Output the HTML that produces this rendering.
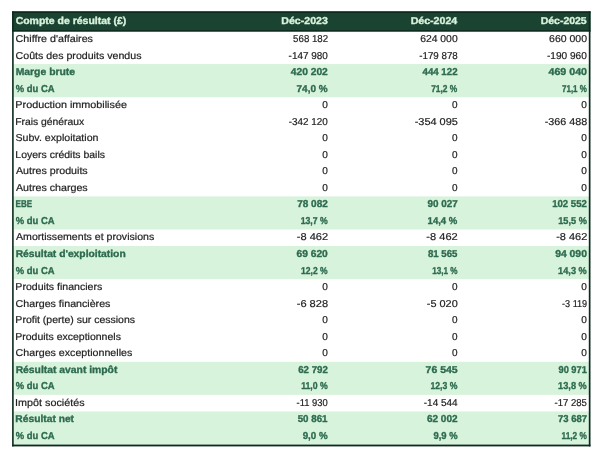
<!DOCTYPE html>
<html lang="fr"><head><meta charset="utf-8"><title>Compte de résultat</title>
<style>
html,body{margin:0;padding:0;background:#fff;}
body{width:600px;height:453px;position:relative;overflow:hidden;font-family:"Liberation Sans",sans-serif;font-size:10px;line-height:1;text-rendering:geometricPrecision;}
.c{position:absolute;white-space:nowrap;display:block;}
.c{-webkit-text-stroke:0.2px currentColor;}
.b{font-weight:bold;-webkit-text-stroke:0.35px currentColor;}
svg{position:absolute;left:0;top:0;}
.l{transform-origin:0 0;}
.r{transform-origin:100% 0;}
</style></head><body>
<svg width="600" height="453" viewBox="0 0 600 453">
<rect x="12.10" y="11.40" width="578.40" height="20.10" fill="#1b4332"/>
<rect x="13.10" y="64.08" width="576.40" height="33.08" fill="#d8f3dc"/>
<rect x="13.10" y="196.40" width="576.40" height="33.08" fill="#d8f3dc"/>
<rect x="13.10" y="246.02" width="576.40" height="33.08" fill="#d8f3dc"/>
<rect x="13.10" y="361.80" width="576.40" height="33.08" fill="#d8f3dc"/>
<rect x="13.10" y="411.42" width="576.40" height="33.98" fill="#d8f3dc"/>
<g fill="#0d2a1e">
<rect x="12.10" y="11.40" width="578.40" height="1.60"/>
<rect x="12.10" y="30.20" width="578.40" height="1.30"/>
<rect x="12.10" y="444.60" width="578.40" height="1.80"/>
<rect x="12.10" y="11.40" width="1.60" height="435.00"/>
<rect x="588.80" y="11.40" width="1.70" height="435.00"/>
</g>
</svg>
<span id="h0" class="c l b" style="left:15px;top:17.1px;color:#d8f3dc;transform:translateX(0.65px) scaleX(1.0478)">Compte de résultat (£)</span>
<span id="h1" class="c r b" style="right:272px;top:17.1px;color:#d8f3dc;transform:translateX(-0.16px) scaleX(1.0562)">Déc-2023</span>
<span id="h2" class="c r b" style="right:142px;top:17.1px;color:#d8f3dc;transform:translateX(-0.73px) scaleX(1.0600)">Déc-2024</span>
<span id="h3" class="c r b" style="right:13px;top:17.1px;color:#d8f3dc;transform:translateX(-0.22px) scaleX(1.0482)">Déc-2025</span>
<span id="r0l" class="c l" style="left:15px;top:35.1px;color:#222222;transform:translateX(0.62px) scaleX(1.0722)">Chiffre d'affaires</span>
<span id="r0c0" class="c r" style="right:272px;top:35.1px;color:#222222;transform:translateX(-0.05px) scaleX(0.9678)">568 182</span>
<span id="r0c1" class="c r" style="right:142px;top:35.1px;color:#222222;transform:translateX(-0.50px) scaleX(1.0372)">624 000</span>
<span id="r0c2" class="c r" style="right:13px;top:35.1px;color:#222222;transform:translateX(-0.17px) scaleX(1.0491)">660 000</span>
<span id="r1l" class="c l" style="left:15px;top:52.1px;color:#222222;transform:translateX(0.62px) scaleX(1.0629)">Coûts des produits vendus</span>
<span id="r1c0" class="c r" style="right:272px;top:52.1px;color:#222222;transform:translateX(-0.61px) scaleX(0.9955)">-147 980</span>
<span id="r1c1" class="c r" style="right:142px;top:52.1px;color:#222222;transform:translateX(-0.75px) scaleX(0.9746)">-179 878</span>
<span id="r1c2" class="c r" style="right:13px;top:52.1px;color:#222222;transform:translateX(-0.63px) scaleX(1.0111)">-190 960</span>
<span id="r2l" class="c l b" style="left:15px;top:68.1px;color:#2d6a4f;transform:translateX(0.64px) scaleX(1.0390)">Marge brute</span>
<span id="r2c0" class="c r b" style="right:272px;top:68.1px;color:#2d6a4f;transform:translateX(-0.32px) scaleX(1.0254)">420 202</span>
<span id="r2c1" class="c r b" style="right:142px;top:68.1px;color:#2d6a4f;transform:translateX(-0.60px) scaleX(0.9695)">444 122</span>
<span id="r2c2" class="c r b" style="right:13px;top:68.1px;color:#2d6a4f;transform:translateX(-0.14px) scaleX(1.0665)">469 040</span>
<span id="r3l" class="c l b" style="left:15px;top:85.1px;color:#2d6a4f;transform:translateX(0.85px) scaleX(0.9433)">% du CA</span>
<span id="r3c0" class="c r b" style="right:272px;top:85.1px;color:#2d6a4f;transform:translateX(-0.47px) scaleX(0.9992)">74,0 %</span>
<span id="r3c1" class="c r b" style="right:142px;top:85.1px;color:#2d6a4f;transform:translateX(-0.82px) scaleX(0.8407)">71,2 %</span>
<span id="r3c2" class="c r b" style="right:13px;top:85.1px;color:#2d6a4f;transform:translateX(-0.22px) scaleX(0.8008)">71,1 %</span>
<span id="r4l" class="c l" style="left:15px;top:101.1px;color:#222222;transform:translateX(0.35px) scaleX(1.0791)">Production immobilisée</span>
<span id="r4c0" class="c r" style="right:271px;top:101.1px;color:#222222;transform:translateX(-0.70px) scaleX(1.0081)">0</span>
<span id="r4c1" class="c r" style="right:142px;top:101.1px;color:#222222;transform:translateX(-0.02px) scaleX(0.9985)">0</span>
<span id="r4c2" class="c r" style="right:12px;top:101.1px;color:#222222;transform:translateX(-0.60px) scaleX(1.0084)">0</span>
<span id="r5l" class="c l" style="left:15px;top:118.1px;color:#222222;transform:translateX(0.21px) scaleX(1.0352)">Frais généraux</span>
<span id="r5c0" class="c r" style="right:272px;top:118.1px;color:#222222;transform:translateX(-0.68px) scaleX(0.9905)">-342 120</span>
<span id="r5c1" class="c r" style="right:142px;top:118.1px;color:#222222;transform:translateX(-0.61px) scaleX(1.0946)">-354 095</span>
<span id="r5c2" class="c r" style="right:13px;top:118.1px;color:#222222;transform:translateX(-0.34px) scaleX(1.0758)">-366 488</span>
<span id="r6l" class="c l" style="left:15px;top:134.1px;color:#222222;transform:translateX(0.49px) scaleX(1.0611)">Subv. exploitation</span>
<span id="r6c0" class="c r" style="right:271px;top:134.1px;color:#222222;transform:translateX(-0.70px) scaleX(1.0081)">0</span>
<span id="r6c1" class="c r" style="right:142px;top:134.1px;color:#222222;transform:translateX(-0.02px) scaleX(0.9985)">0</span>
<span id="r6c2" class="c r" style="right:12px;top:134.1px;color:#222222;transform:translateX(-0.60px) scaleX(1.0084)">0</span>
<span id="r7l" class="c l" style="left:15px;top:151.1px;color:#222222;transform:translateX(0.37px) scaleX(1.0472)">Loyers crédits bails</span>
<span id="r7c0" class="c r" style="right:271px;top:151.1px;color:#222222;transform:translateX(-0.70px) scaleX(1.0081)">0</span>
<span id="r7c1" class="c r" style="right:142px;top:151.1px;color:#222222;transform:translateX(-0.02px) scaleX(0.9985)">0</span>
<span id="r7c2" class="c r" style="right:12px;top:151.1px;color:#222222;transform:translateX(-0.60px) scaleX(1.0084)">0</span>
<span id="r8l" class="c l" style="left:15px;top:167.1px;color:#222222;transform:translateX(0.91px) scaleX(1.0676)">Autres produits</span>
<span id="r8c0" class="c r" style="right:271px;top:167.1px;color:#222222;transform:translateX(-0.70px) scaleX(1.0081)">0</span>
<span id="r8c1" class="c r" style="right:142px;top:167.1px;color:#222222;transform:translateX(-0.02px) scaleX(0.9985)">0</span>
<span id="r8c2" class="c r" style="right:12px;top:167.1px;color:#222222;transform:translateX(-0.60px) scaleX(1.0084)">0</span>
<span id="r9l" class="c l" style="left:15px;top:184.1px;color:#222222;transform:translateX(0.95px) scaleX(1.0669)">Autres charges</span>
<span id="r9c0" class="c r" style="right:271px;top:184.1px;color:#222222;transform:translateX(-0.70px) scaleX(1.0081)">0</span>
<span id="r9c1" class="c r" style="right:142px;top:184.1px;color:#222222;transform:translateX(-0.02px) scaleX(0.9985)">0</span>
<span id="r9c2" class="c r" style="right:12px;top:184.1px;color:#222222;transform:translateX(-0.60px) scaleX(1.0084)">0</span>
<span id="r10l" class="c l b" style="left:15px;top:200.1px;color:#2d6a4f;transform:translateX(0.58px) scaleX(0.8029)">EBE</span>
<span id="r10c0" class="c r b" style="right:271px;top:200.1px;color:#2d6a4f;transform:translateX(-0.75px) scaleX(1.0029)">78 082</span>
<span id="r10c1" class="c r b" style="right:141px;top:200.1px;color:#2d6a4f;transform:translateX(-0.85px) scaleX(0.9869)">90 027</span>
<span id="r10c2" class="c r b" style="right:13px;top:200.1px;color:#2d6a4f;transform:translateX(-0.23px) scaleX(0.9623)">102 552</span>
<span id="r11l" class="c l b" style="left:15px;top:217.1px;color:#2d6a4f;transform:translateX(0.85px) scaleX(0.9433)">% du CA</span>
<span id="r11c0" class="c r b" style="right:272px;top:217.1px;color:#2d6a4f;transform:translateX(-0.44px) scaleX(0.8682)">13,7 %</span>
<span id="r11c1" class="c r b" style="right:142px;top:217.1px;color:#2d6a4f;transform:translateX(-0.82px) scaleX(0.9547)">14,4 %</span>
<span id="r11c2" class="c r b" style="right:13px;top:217.1px;color:#2d6a4f;transform:translateX(-0.33px) scaleX(0.9191)">15,5 %</span>
<span id="r12l" class="c l" style="left:16px;top:233.1px;color:#222222;transform:translateX(0.01px) scaleX(1.0582)">Amortissements et provisions</span>
<span id="r12c0" class="c r" style="right:272px;top:233.1px;color:#222222;transform:translateX(-0.22px) scaleX(1.1043)">-8 462</span>
<span id="r12c1" class="c r" style="right:142px;top:233.1px;color:#222222;transform:translateX(-0.60px) scaleX(1.1069)">-8 462</span>
<span id="r12c2" class="c r" style="right:13px;top:233.1px;color:#222222;transform:translateX(-0.04px) scaleX(1.0978)">-8 462</span>
<span id="r13l" class="c l b" style="left:15px;top:250.1px;color:#2d6a4f;transform:translateX(0.67px) scaleX(1.0297)">Résultat d'exploitation</span>
<span id="r13c0" class="c r b" style="right:271px;top:250.1px;color:#2d6a4f;transform:translateX(-0.82px) scaleX(1.0231)">69 620</span>
<span id="r13c1" class="c r b" style="right:142px;top:250.1px;color:#2d6a4f;transform:translateX(-0.18px) scaleX(0.9647)">81 565</span>
<span id="r13c2" class="c r b" style="right:12px;top:250.1px;color:#2d6a4f;transform:translateX(-0.67px) scaleX(1.0390)">94 090</span>
<span id="r14l" class="c l b" style="left:15px;top:267.1px;color:#2d6a4f;transform:translateX(0.85px) scaleX(0.9433)">% du CA</span>
<span id="r14c0" class="c r b" style="right:272px;top:267.1px;color:#2d6a4f;transform:translateX(-0.49px) scaleX(0.8524)">12,2 %</span>
<span id="r14c1" class="c r b" style="right:142px;top:267.1px;color:#2d6a4f;transform:translateX(-0.52px) scaleX(0.8164)">13,1 %</span>
<span id="r14c2" class="c r b" style="right:13px;top:267.1px;color:#2d6a4f;transform:translateX(-0.37px) scaleX(0.9220)">14,3 %</span>
<span id="r15l" class="c l" style="left:15px;top:283.1px;color:#222222;transform:translateX(0.37px) scaleX(1.0565)">Produits financiers</span>
<span id="r15c0" class="c r" style="right:271px;top:283.1px;color:#222222;transform:translateX(-0.70px) scaleX(1.0081)">0</span>
<span id="r15c1" class="c r" style="right:142px;top:283.1px;color:#222222;transform:translateX(-0.02px) scaleX(0.9985)">0</span>
<span id="r15c2" class="c r" style="right:12px;top:283.1px;color:#222222;transform:translateX(-0.60px) scaleX(1.0084)">0</span>
<span id="r16l" class="c l" style="left:15px;top:300.1px;color:#222222;transform:translateX(0.62px) scaleX(1.0660)">Charges financières</span>
<span id="r16c0" class="c r" style="right:272px;top:300.1px;color:#222222;transform:translateX(-0.32px) scaleX(1.1039)">-6 828</span>
<span id="r16c1" class="c r" style="right:142px;top:300.1px;color:#222222;transform:translateX(-0.65px) scaleX(1.0892)">-5 020</span>
<span id="r16c2" class="c r" style="right:12px;top:300.1px;color:#222222;transform:translateX(-0.53px) scaleX(0.9069)">-3 119</span>
<span id="r17l" class="c l" style="left:15px;top:316.1px;color:#222222;transform:translateX(0.37px) scaleX(1.0506)">Profit (perte) sur cessions</span>
<span id="r17c0" class="c r" style="right:271px;top:316.1px;color:#222222;transform:translateX(-0.70px) scaleX(1.0081)">0</span>
<span id="r17c1" class="c r" style="right:142px;top:316.1px;color:#222222;transform:translateX(-0.02px) scaleX(0.9985)">0</span>
<span id="r17c2" class="c r" style="right:12px;top:316.1px;color:#222222;transform:translateX(-0.60px) scaleX(1.0084)">0</span>
<span id="r18l" class="c l" style="left:15px;top:333.1px;color:#222222;transform:translateX(0.20px) scaleX(1.0504)">Produits exceptionnels</span>
<span id="r18c0" class="c r" style="right:271px;top:333.1px;color:#222222;transform:translateX(-0.70px) scaleX(1.0081)">0</span>
<span id="r18c1" class="c r" style="right:142px;top:333.1px;color:#222222;transform:translateX(-0.02px) scaleX(0.9985)">0</span>
<span id="r18c2" class="c r" style="right:12px;top:333.1px;color:#222222;transform:translateX(-0.60px) scaleX(1.0084)">0</span>
<span id="r19l" class="c l" style="left:15px;top:349.1px;color:#222222;transform:translateX(0.62px) scaleX(1.0651)">Charges exceptionnelles</span>
<span id="r19c0" class="c r" style="right:271px;top:349.1px;color:#222222;transform:translateX(-0.70px) scaleX(1.0081)">0</span>
<span id="r19c1" class="c r" style="right:142px;top:349.1px;color:#222222;transform:translateX(-0.02px) scaleX(0.9985)">0</span>
<span id="r19c2" class="c r" style="right:12px;top:349.1px;color:#222222;transform:translateX(-0.60px) scaleX(1.0084)">0</span>
<span id="r20l" class="c l b" style="left:15px;top:366.1px;color:#2d6a4f;transform:translateX(0.65px) scaleX(1.0341)">Résultat avant impôt</span>
<span id="r20c0" class="c r b" style="right:271px;top:366.1px;color:#2d6a4f;transform:translateX(-0.75px) scaleX(0.9708)">62 792</span>
<span id="r20c1" class="c r b" style="right:141px;top:366.1px;color:#2d6a4f;transform:translateX(-0.92px) scaleX(1.0489)">76 545</span>
<span id="r20c2" class="c r b" style="right:12px;top:366.1px;color:#2d6a4f;transform:translateX(-0.80px) scaleX(0.9239)">90 971</span>
<span id="r21l" class="c l b" style="left:15px;top:382.1px;color:#2d6a4f;transform:translateX(0.85px) scaleX(0.9433)">% du CA</span>
<span id="r21c0" class="c r b" style="right:271px;top:382.1px;color:#2d6a4f;transform:translateX(-0.83px) scaleX(0.8707)">11,0 %</span>
<span id="r21c1" class="c r b" style="right:142px;top:382.1px;color:#2d6a4f;transform:translateX(-0.75px) scaleX(0.8656)">12,3 %</span>
<span id="r21c2" class="c r b" style="right:13px;top:382.1px;color:#2d6a4f;transform:translateX(-0.38px) scaleX(0.9205)">13,8 %</span>
<span id="r22l" class="c l" style="left:15px;top:399.1px;color:#222222;transform:translateX(0.12px) scaleX(1.0772)">Impôt sociétés</span>
<span id="r22c0" class="c r" style="right:272px;top:399.1px;color:#222222;transform:translateX(-0.36px) scaleX(0.9409)">-11 930</span>
<span id="r22c1" class="c r" style="right:142px;top:399.1px;color:#222222;transform:translateX(-0.25px) scaleX(0.9988)">-14 544</span>
<span id="r22c2" class="c r" style="right:13px;top:399.1px;color:#222222;transform:translateX(-0.05px) scaleX(0.9545)">-17 285</span>
<span id="r23l" class="c l b" style="left:15px;top:415.1px;color:#2d6a4f;transform:translateX(0.36px) scaleX(1.0247)">Résultat net</span>
<span id="r23c0" class="c r b" style="right:272px;top:415.1px;color:#2d6a4f;transform:translateX(-0.07px) scaleX(0.9761)">50 861</span>
<span id="r23c1" class="c r b" style="right:142px;top:415.1px;color:#2d6a4f;transform:translateX(-0.03px) scaleX(1.0023)">62 002</span>
<span id="r23c2" class="c r b" style="right:12px;top:415.1px;color:#2d6a4f;transform:translateX(-0.59px) scaleX(0.9503)">73 687</span>
<span id="r24l" class="c l b" style="left:15px;top:432.1px;color:#2d6a4f;transform:translateX(0.85px) scaleX(0.9433)">% du CA</span>
<span id="r24c0" class="c r b" style="right:271px;top:432.1px;color:#2d6a4f;transform:translateX(-0.92px) scaleX(0.9786)">9,0 %</span>
<span id="r24c1" class="c r b" style="right:141px;top:432.1px;color:#2d6a4f;transform:translateX(-0.99px) scaleX(0.9433)">9,9 %</span>
<span id="r24c2" class="c r b" style="right:12px;top:432.1px;color:#2d6a4f;transform:translateX(-0.71px) scaleX(0.8280)">11,2 %</span>
</body></html>
